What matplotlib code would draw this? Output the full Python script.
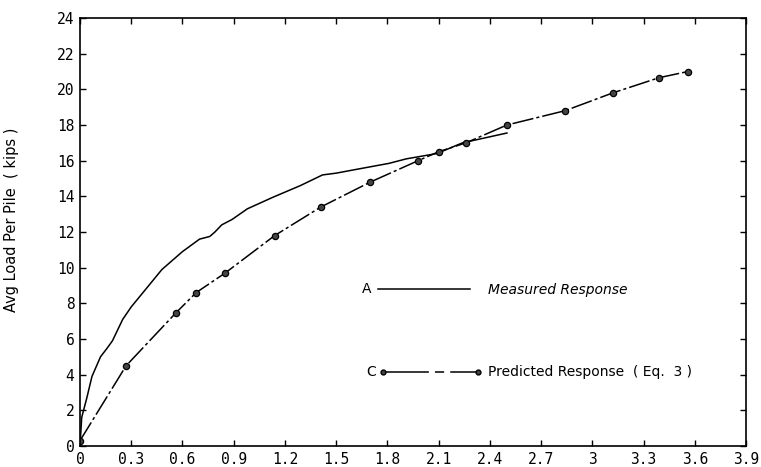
import matplotlib
matplotlib.use("Agg")
import matplotlib.pyplot as plt
from matplotlib.lines import Line2D

meas_x = [0.0, 0.01, 0.04, 0.07, 0.12, 0.16, 0.19, 0.22, 0.25, 0.30, 0.36,
          0.48, 0.60, 0.70, 0.76, 0.79, 0.83, 0.89, 0.98, 1.13, 1.29, 1.42,
          1.50, 1.64, 1.81, 1.91, 2.09, 2.24, 2.50]
meas_y = [0.0, 1.6, 2.7, 3.9, 5.0, 5.5, 5.9, 6.5, 7.1, 7.8, 8.5,
          9.9, 10.9, 11.6, 11.75, 12.0, 12.4, 12.7, 13.3, 13.95, 14.6, 15.2,
          15.3, 15.55, 15.85, 16.1, 16.4, 17.0, 17.55]

# predicted response (Eq. 3), marker points
pred_x = [0.0, 0.27, 0.56, 0.68, 0.85, 1.14, 1.41, 1.70, 1.98, 2.10, 2.26,
          2.50, 2.84, 3.12, 3.39, 3.56]
pred_y = [0.3, 4.5, 7.45, 8.6, 9.7, 11.8, 13.4, 14.8, 16.0, 16.5, 17.0,
          18.0, 18.8, 19.8, 20.65, 21.0]

x_ticks = [0, 0.3, 0.6, 0.9, 1.2, 1.5, 1.8, 2.1, 2.4, 2.7, 3.0, 3.3, 3.6, 3.9]
x_labels = ["0", "0.3", "0.6", "0.9", "1.2", "1.5", "1.8", "2.1", "2.4",
            "2.7", "3", "3.3", "3.6", "3.9"]
y_ticks = list(range(0, 25, 2))

fig = plt.figure(figsize=(7.61, 4.67), dpi=100)
ax = fig.add_axes([80 / 761, 21 / 467, 666 / 761, 428 / 467])

ax.plot(meas_x, meas_y, color="black", lw=1.1, solid_joinstyle="round")
ax.plot(pred_x, pred_y, color="black", lw=1.1, dashes=(14, 2, 2, 2),
        marker="o", ms=4.5, mfc="#444444", mec="black", mew=0.9)

ax.set_xlim(0, 3.9)
ax.set_ylim(0, 24)
ax.set_xticks(x_ticks)
ax.set_xticklabels(x_labels)
ax.set_yticks(y_ticks)
ax.tick_params(direction="in", length=4, width=1, top=True, right=True,
               labelsize=10.5, pad=4)
for lab in ax.get_xticklabels() + ax.get_yticklabels():
    lab.set_family("DejaVu Sans Mono")
for sp in ax.spines.values():
    sp.set_linewidth(1.2)

ax.set_ylabel("Avg Load Per Pile  ( kips )", fontsize=10.5,
              family="DejaVu Sans")
ax.yaxis.set_label_coords(-0.092, 0.528)

# hand drawn legend inside the plot
tr = ax.transAxes
ax.text(0.431, 0.367, "A", transform=tr, fontsize=10, va="center", ha="center")
ax.add_line(Line2D([0.447, 0.586], [0.367, 0.367], transform=tr,
                   color="black", lw=1.1))
ax.text(0.613, 0.364, "Measured Response", transform=tr, fontsize=10,
        style="italic", va="center")

ax.text(0.437, 0.173, "C", transform=tr, fontsize=10, va="center", ha="center")
ax.add_line(Line2D([0.455, 0.598], [0.173, 0.173], transform=tr,
                   color="black", lw=1.1, dashes=(30, 4, 6, 4),
                   marker="o", ms=3.5, mfc="#444444", mec="black",
                   markevery=[0, 1]))
ax.text(0.613, 0.173, "Predicted Response  ( Eq.  3 )", transform=tr,
        fontsize=10, va="center")

fig.savefig("out.png", dpi=100)
